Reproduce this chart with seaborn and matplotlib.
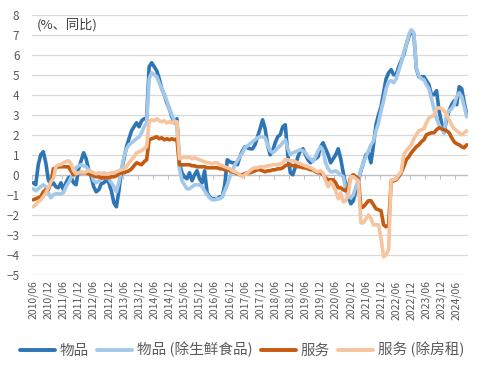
import numpy as np
import pandas as pd
import seaborn as sns
import matplotlib.pyplot as plt
from matplotlib.lines import Line2D

# monthly, 2010/06 - 2024/10, yoy %
months = pd.period_range("2010-06", "2024-10", freq="M")
month_labels = [p.strftime("%Y/%m") for p in months]

goods = [
    -0.4, -0.5, 0.5, 1.0, 1.15, 0.6, -0.25, -0.5, -0.4, -0.6, -0.65, -0.4,
    -0.75, -0.4, -0.15, -0.1, -0.4, -0.5, 0.3, 0.7, 1.1, 0.8, 0.25, -0.1,
    -0.6, -0.85, -0.75, -0.45, -0.4, -0.25, -0.4, -0.8, -1.4, -1.6, -0.8, 0.2,
    0.8, 1.4, 1.8, 2.2, 2.4, 2.6, 2.4, 2.7, 2.8, 2.8, 5.4, 5.6,
    5.4, 5.2, 4.8, 4.3, 4.0, 3.6, 3.3, 2.9, 2.6, 2.8, 0.6, 0.1,
    -0.1, -0.2, 0.1, -0.3, 0.0, 0.2, -0.2, -0.4, 0.2, -0.9, -1.1, -1.2,
    -1.2, -1.2, -1.1, -1.1, -0.5, 0.75, 0.65, 0.6, 0.6, 0.5, 0.9, 1.2,
    1.4, 1.35, 1.3, 1.3, 1.5, 1.9, 2.3, 2.75, 2.3, 1.5, 1.0, 1.2,
    1.6, 1.9, 2.0, 2.4, 2.5, 1.0, 0.1, 0.0, 0.4, 0.9, 1.2, 1.3,
    1.0, 0.75, 0.6, 0.75, 0.8, 0.9, 1.4, 1.6, 1.3, 1.0, 0.6, 0.8,
    1.0, 1.3, 0.8, 0.1, -0.5, -1.1, -1.45, -1.3, -0.8, -0.3, 0.2, 0.6,
    1.0, 1.1, 0.6, 1.5, 2.5, 3.0, 3.4, 4.1, 4.8, 5.1, 5.25, 5.0,
    5.0, 5.4, 5.7, 6.0, 6.5, 6.9, 7.2, 7.0, 5.3, 4.9, 4.9, 4.9,
    4.7, 4.5, 4.0, 4.0, 4.2, 3.2, 2.6, 2.1, 2.8, 3.2, 3.5, 3.7,
    3.5, 4.4, 4.3, 3.6, 3.0,
]
goods_ex_fresh = [
    -0.7, -0.8, -0.7, -0.6, -0.5, -0.6, -0.9, -1.15, -1.0, -0.95, -0.95, -0.95,
    -0.9, -0.6, -0.4, -0.15, 0.1, 0.35, 0.45, 0.5, 0.45, 0.4, 0.25, 0.1,
    -0.3, -0.4, -0.3, -0.2, -0.15, -0.15, -0.2, -0.4, -0.6, -0.85, -0.4, 0.3,
    0.9, 1.3, 1.5, 1.6, 1.7, 1.8, 1.9, 2.1, 2.4, 2.6, 4.8, 5.1,
    5.0, 4.9, 4.6, 4.3, 4.0, 3.7, 3.3, 3.0, 2.7, 2.6, 0.3, -0.3,
    -0.5, -0.7, -0.7, -0.6, -0.5, -0.5, -0.5, -0.6, -0.8, -1.0, -1.15, -1.25,
    -1.25, -1.2, -1.2, -1.1, -0.8, -0.5, -0.1, 0.2, 0.5, 0.7, 0.9, 1.1,
    1.35, 1.45, 1.55, 1.65, 1.75, 1.85, 1.9, 1.9, 1.85, 1.5, 1.2, 1.1,
    1.2, 1.35, 1.45, 1.6, 1.75, 1.3, 1.0, 1.1, 1.15, 1.2, 1.25, 1.2,
    1.1, 0.9, 0.8, 0.65, 0.9, 1.2, 1.4, 1.2, 0.6, 0.3, 0.15, 0.15,
    0.2, 0.1, 0.0, -0.1, -0.7, -1.0, -1.15, -1.0, -0.6, -0.3, 0.25, 0.6,
    0.9, 1.2, 1.5, 1.7, 2.2, 2.6, 3.2, 3.7, 4.3, 4.65, 4.7, 4.6,
    4.8, 5.2, 5.6, 6.1, 6.5, 7.0, 7.25, 7.1, 5.3, 4.95, 4.8, 4.75,
    4.5, 4.3, 3.8, 3.3, 2.8, 2.5, 2.3, 2.1, 3.0, 3.2, 3.3, 3.5,
    3.9, 4.1, 3.9, 3.4, 2.9,
]
services = [
    -1.25, -1.2, -1.15, -1.1, -0.85, -0.75, -0.75, -0.4, 0.3, 0.35, 0.4, 0.4,
    0.4, 0.4, 0.4, 0.2, 0.0, 0.05, 0.1, 0.1, 0.1, 0.1, 0.05, 0.0,
    -0.05, -0.1, -0.1, -0.15, -0.15, -0.15, -0.15, -0.1, -0.1, -0.05, 0.05, 0.1,
    0.1, 0.15, 0.2, 0.3, 0.45, 0.6, 0.55, 0.5, 0.65, 0.75, 1.75, 1.8,
    1.85, 1.9, 1.8, 1.85, 1.75, 1.8, 1.75, 1.8, 1.75, 1.8, 0.5, 0.5,
    0.5, 0.5, 0.5, 0.45, 0.45, 0.4, 0.4, 0.4, 0.4, 0.35, 0.35, 0.35,
    0.35, 0.35, 0.3, 0.3, 0.25, 0.25, 0.2, 0.15, 0.1, 0.05, 0.0, 0.0,
    0.05, 0.1, 0.1, 0.15, 0.2, 0.25, 0.25, 0.2, 0.15, 0.2, 0.2, 0.25,
    0.25, 0.3, 0.3, 0.35, 0.45, 0.5, 0.5, 0.45, 0.45, 0.4, 0.4, 0.35,
    0.35, 0.3, 0.25, 0.25, 0.15, 0.1, 0.1, 0.0, -0.15, -0.25, -0.25, -0.25,
    -0.4, -0.65, -0.65, -0.75, -0.8, -0.6, -0.1, 0.0, -0.1, -0.2, -1.65, -1.6,
    -1.45, -1.3, -1.3, -1.5, -1.7, -1.75, -1.8, -2.5, -2.6, -2.5, -0.35, -0.3,
    -0.25, -0.1, 0.1, 0.4, 0.75, 0.9, 1.1, 1.25, 1.4, 1.5, 1.65, 1.75,
    2.0, 2.05, 2.1, 2.1, 2.25, 2.35, 2.3, 2.25, 2.2, 2.1, 1.85, 1.65,
    1.55, 1.5, 1.4, 1.35, 1.5,
]
services_ex_rent = [
    -1.6, -1.5, -1.35, -1.25, -1.1, -0.9, -0.65, -0.35, -0.2, 0.4, 0.5, 0.5,
    0.6, 0.65, 0.7, 0.55, 0.2, 0.05, 0.1, 0.15, 0.1, 0.15, 0.2, 0.15,
    0.1, 0.05, 0.1, 0.05, 0.1, 0.05, 0.05, 0.1, 0.1, 0.15, 0.2, 0.25,
    0.3, 0.4, 0.6, 0.75, 0.9, 1.1, 1.15, 1.2, 1.3, 1.4, 2.65, 2.75,
    2.7, 2.8, 2.7, 2.65, 2.7, 2.6, 2.65, 2.6, 2.65, 2.65, 0.8, 0.85,
    0.9, 0.85, 0.9, 0.8, 0.85, 0.8, 0.75, 0.7, 0.65, 0.6, 0.6, 0.55,
    0.6, 0.6, 0.5, 0.45, 0.4, 0.35, 0.3, 0.2, 0.15, 0.1, 0.0, -0.1,
    0.0, 0.1, 0.2, 0.3, 0.35, 0.35, 0.4, 0.4, 0.4, 0.45, 0.45, 0.5,
    0.5, 0.5, 0.55, 0.6, 0.75, 0.75, 0.7, 0.7, 0.65, 0.6, 0.55, 0.5,
    0.45, 0.4, 0.35, 0.3, 0.2, 0.15, 0.2, 0.1, -0.3, -0.6, -0.35, -0.55,
    -0.8, -1.2, -0.9, -1.35, -1.3, -1.0, -0.1, -0.1, -0.2, -0.3, -2.4, -2.4,
    -2.2, -2.0, -2.2, -2.5, -2.5, -2.5, -3.2, -4.1, -4.0, -3.75, -0.25, -0.25,
    -0.2, 0.0, 0.15, 1.0, 1.2, 1.35, 1.5, 1.8, 2.0, 2.2, 2.25, 2.3,
    2.6, 2.85, 2.9, 3.0, 3.3, 3.35, 3.3, 3.2, 3.0, 2.75, 2.5, 2.3,
    2.2, 2.1, 2.0, 2.1, 2.2,
]

series_names = ["物品", "物品 (除生鲜食品)", "服务", "服务 (除房租)"]
colors = ["#2E75B6", "#A4C8EA", "#C55A11", "#F7C4A0"]

df = pd.DataFrame({
    "idx": np.arange(len(months)),
    series_names[0]: goods,
    series_names[1]: goods_ex_fresh,
    series_names[2]: services,
    series_names[3]: services_ex_rent,
})
long_df = df.melt(id_vars="idx", var_name="series", value_name="yoy")

sns.set_theme(style="white")
plt.rcParams["font.family"] = ["Noto Sans CJK SC", "DejaVu Sans"]

fig = plt.figure(figsize=(4.84, 3.77), dpi=100)
ax = fig.add_axes([0.066, 0.271, 0.901, 0.690])

sns.lineplot(data=long_df, x="idx", y="yoy", hue="series", hue_order=series_names,
             palette=dict(zip(series_names, colors)), linewidth=2.6, ax=ax, legend=False)

ax.set_xlim(-0.5, len(months) - 0.5)
ax.set_ylim(-5, 8)
ax.set_yticks(range(-5, 9))
ax.yaxis.grid(True, color="#D9D9D9", linewidth=0.9)
ax.set_axisbelow(True)
for s in ax.spines.values():
    s.set_visible(False)

tick_pos = np.arange(0, len(months), 6)
ax.set_xticks(tick_pos)
ax.set_xticklabels([month_labels[i] for i in tick_pos], rotation=90)
ax.tick_params(axis="x", length=0, pad=4, labelsize=7.5, labelcolor="#595959")
ax.tick_params(axis="y", length=0, pad=9, labelsize=8.5, labelcolor="#595959")
ax.set_xlabel("")
ax.set_ylabel("")

# category axis crossing at zero, with small tick marks
ax.axhline(0, color="#BFBFBF", linewidth=0.9, zorder=1)
sec = ax.secondary_xaxis(5 / 13)
sec.set_xticks(np.arange(-0.5, len(months), 6))
sec.tick_params(axis="x", which="both", bottom=True, top=False, labelbottom=False,
                labeltop=False, length=3, width=0.8, color="#BFBFBF", direction="out")
for s in sec.spines.values():
    s.set_visible(False)

ax.text(0.012, 0.962, "(%、同比)", transform=ax.transAxes, fontsize=9.5,
        color="#404040", va="center", ha="left")

handles = [Line2D([0], [0], color=c, linewidth=2.8) for c in colors]
fig.legend(handles, series_names, loc="center", bbox_to_anchor=(0.5, 0.072), ncol=4,
           frameon=False, fontsize=10.5, handlelength=2.4, handletextpad=0.3,
           columnspacing=0.6, labelcolor="#595959")

fig.savefig("out.png", dpi=100)
